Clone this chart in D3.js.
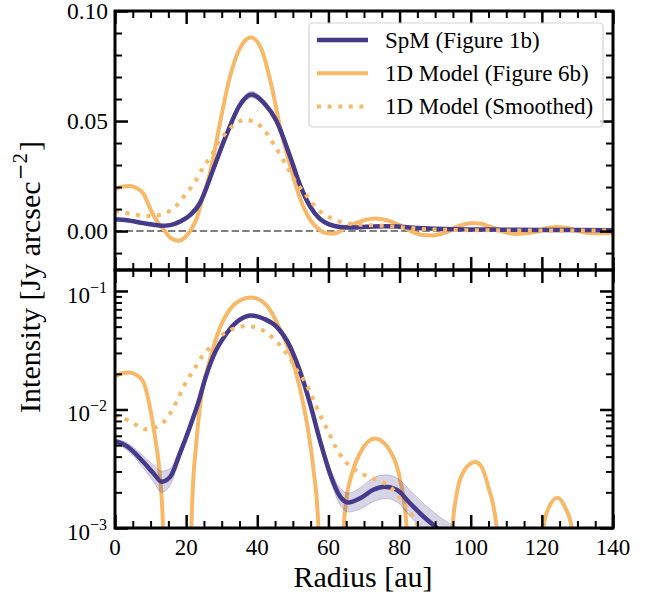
<!DOCTYPE html>
<html>
<head>
<meta charset="utf-8">
<script src="https://cdn.jsdelivr.net/npm/d3@7"></script>
<style>
  body { margin: 0; background: #fff; }
</style>
</head>
<body>
<svg id="chart" width="647" height="601"></svg>
<script>
// SpM profile (Figure 1b): radius [au], intensity, half-width of uncertainty band [dex]
const spmR = [0, 3.3, 8, 10.8, 13.1, 15.5, 18.3, 21.1, 23.9, 24.8, 27.6, 31.4, 35, 38.4, 42, 45.4, 49.2, 52, 54.8, 57.6, 60.4, 63.3, 65.6, 68.9, 72.6, 75.9, 79.2, 82.9, 86.7, 90, 95, 100, 110, 120, 130, 140]
const spmI = [0.0054, 0.0049, 0.0036, 0.0029, 0.00246, 0.0027, 0.0043, 0.0072, 0.0128, 0.016, 0.028, 0.044, 0.057, 0.062, 0.058, 0.05, 0.034, 0.021, 0.0113, 0.0055, 0.0029, 0.00184, 0.00164, 0.00178, 0.0021, 0.00223, 0.0021, 0.00162, 0.00125, 0.00103, 0.0008, 0.0007, 0.0006, 0.0005, 0.0005, 0.0004]
const spmErr = [0.02, 0.03, 0.05, 0.07, 0.09, 0.07, 0.04, 0.025, 0.015, 0.015, 0.01, 0.01, 0.01, 0.01, 0.01, 0.01, 0.01, 0.015, 0.02, 0.03, 0.05, 0.07, 0.08, 0.09, 0.1, 0.1, 0.1, 0.11, 0.11, 0.11, 0.12, 0.12, 0.12, 0.12, 0.12, 0.12]

// 1D model (Figure 6b)
const modelR = [0, 2, 4, 6, 8, 9.8, 11.2, 12.5, 13.5, 13.9, 15.5, 17.8, 19.6, 21.2, 21.5, 22, 22.8, 23.6, 24.6, 26, 27.2, 29.5, 32.3, 35.1, 38.2, 41.2, 44, 46.4, 49.2, 52, 54, 55.7, 57.2, 57.8, 59.5, 61, 62.5, 63.6, 64.2, 65, 66.5, 68.9, 71, 73.1, 75, 77.3, 80.1, 82, 82.8, 86, 89, 92, 94.2, 94.9, 96, 98, 100, 101.2, 103, 105, 107.3, 108.3, 113, 117, 119.6, 120.4, 122, 124.4, 126.5, 128.4, 129.6, 135, 140]
const modelI = [0.0189, 0.0202, 0.0205, 0.0196, 0.017, 0.0105, 0.006, 0.003, 0.001, 0.0002, -0.003, -0.0044, -0.003, 0.0002, 0.001, 0.0025, 0.005, 0.009, 0.015, 0.022, 0.03, 0.049, 0.07, 0.083, 0.088, 0.0825, 0.066, 0.0475, 0.03, 0.015, 0.0075, 0.0033, 0.001, 0.0002, -0.001, -0.0012, -0.0007, 0.0002, 0.0009, 0.0017, 0.0028, 0.0043, 0.0053, 0.0057, 0.0054, 0.0045, 0.0026, 0.001, 0.0002, -0.0017, -0.002, -0.0011, 0.0002, 0.001, 0.0019, 0.003, 0.0035, 0.0036, 0.0033, 0.0022, 0.001, 0.0002, -0.0013, -0.0007, 0.0002, 0.001, 0.0015, 0.0018, 0.0015, 0.001, 0.0002, -0.001, -0.001]

// 1D model, smoothed
const smoothR = [0, 2, 4.5, 8.4, 12.5, 15.3, 17.3, 19.5, 22.5, 24.8, 27.2, 29, 31.9, 34, 36.5, 39.8, 42.6, 45, 47.3, 49.2, 51.1, 52.5, 54.4, 56.2, 58.1, 60, 61.9, 64.2, 67.5, 71.2, 75, 78.2, 81.1, 83.4, 85.3, 88, 92, 100, 110, 120, 130, 140]
const smoothI = [0.009, 0.0085, 0.0079, 0.0068, 0.0073, 0.0091, 0.0116, 0.016, 0.0224, 0.029, 0.0345, 0.04, 0.0459, 0.049, 0.0505, 0.049, 0.0445, 0.0385, 0.0323, 0.0268, 0.0215, 0.0189, 0.015, 0.0113, 0.0084, 0.0065, 0.0049, 0.0038, 0.0031, 0.0027, 0.00246, 0.0021, 0.00162, 0.00129, 0.00103, 0.0008, 0.0006, 0.0004, 0.0003, 0.0003, 0.0002, 0.0002]

const legendLabels = ['SpM (Figure 1b)', '1D Model (Figure 6b)', '1D Model (Smoothed)']
const xMajor = [0, 20, 40, 60, 80, 100, 120, 140]
const linMajor = [0, 0.05, 0.1]
const linLabels = ['0.00', '0.05', '0.10']
const logMajor = [1e-3, 1e-2, 1e-1]
const logExp = ['−3', '−2', '−1']

const purple = '#463a8a'
const orange = '#f7b968'
const serif = "'Liberation Serif'"

const svg = d3.select('#chart')
const L = 115
const R = 613
const topP = { y0: 11, y1: 270 }
const botP = { y0: 270, y1: 528 }

const x = d3.scaleLinear().domain([0, 140]).range([L, R])
const yLin = d3.scaleLinear().domain([-0.0177, 0.1]).range([topP.y1, topP.y0])
const yLog = d3.scaleLog().domain([1e-3, 0.1503]).range([botP.y1, botP.y0])

const spm = spmR.map((r, i) => ({ r: r, v: spmI[i], e: spmErr[i] }))
const model = modelR.map((r, i) => ({ r: r, v: modelI[i] }))
const smooth = smoothR.map((r, i) => ({ r: r, v: smoothI[i] }))

const xMinor = d3.range(0, 141, 5).filter(d => d % 20 !== 0)
const linMinor = d3.range(-1, 10).map(d => d / 100).filter(d => Math.round(d * 100) % 5 !== 0)
const logMinor = []
;[1e-3, 1e-2].forEach(b => { for (let k = 2; k <= 9; k++) logMinor.push(b * k) })

// clip paths
const defs = svg.append('defs')
defs.append('clipPath').attr('id', 'clip-top').append('rect')
  .attr('x', L).attr('y', topP.y0).attr('width', R - L).attr('height', topP.y1 - topP.y0)
defs.append('clipPath').attr('id', 'clip-bot').append('rect')
  .attr('x', L).attr('y', botP.y0).attr('width', R - L).attr('height', botP.y1 - botP.y0)

/**
 * Draws the curves of one panel with the given y scale.
 */
function drawPanel (clipId, y, isLog) {
  const g = svg.append('g').attr('clip-path', 'url(#' + clipId + ')')
  const ok = d => !isLog || d.v > 0

  if (!isLog) {
    g.append('line')
      .attr('x1', L).attr('x2', R)
      .attr('y1', y(0)).attr('y2', y(0))
      .attr('stroke', '#7f7f7f')
      .attr('stroke-width', 2)
      .attr('stroke-dasharray', '7.4,3.2')
  }

  const line = d3.line()
    .defined(ok)
    .x(d => x(d.r))
    .y(d => y(d.v))
    .curve(d3.curveMonotoneX)

  g.append('path')
    .datum(model)
    .attr('d', line)
    .attr('fill', 'none')
    .attr('stroke', orange)
    .attr('stroke-width', 4)

  const band = d3.area()
    .x(d => x(d.r))
    .y0(d => y(d.v * Math.pow(10, -d.e)))
    .y1(d => y(d.v * Math.pow(10, d.e)))
    .curve(d3.curveMonotoneX)

  g.append('path')
    .datum(spm)
    .attr('d', band)
    .attr('fill', purple)
    .attr('fill-opacity', 0.22)
    .attr('stroke', purple)
    .attr('stroke-opacity', 0.25)
    .attr('stroke-width', 1)

  g.append('path')
    .datum(spm)
    .attr('d', line)
    .attr('fill', 'none')
    .attr('stroke', purple)
    .attr('stroke-width', 4.5)

  g.append('path')
    .datum(smooth)
    .attr('d', line)
    .attr('fill', 'none')
    .attr('stroke', orange)
    .attr('stroke-width', 4)
    .attr('stroke-dasharray', '4,6.6')
}

drawPanel('clip-top', yLin, false)
drawPanel('clip-bot', yLog, true)

/**
 * Adds inward ticks (major + minor) for one axis.
 */
function ticks (axisFn, scale, major, minor, transform) {
  const gMaj = svg.append('g').attr('transform', transform)
    .call(axisFn(scale).tickValues(major).tickSize(-13).tickFormat(''))
  const gMin = svg.append('g').attr('transform', transform)
    .call(axisFn(scale).tickValues(minor).tickSize(-7).tickFormat(''))
  ;[gMaj, gMin].forEach((g, i) => {
    g.select('.domain').remove()
    g.selectAll('.tick line').attr('stroke', '#000').attr('stroke-width', i === 0 ? 2.5 : 2)
  })
  return gMaj
}

// x ticks on all spines
ticks(d3.axisTop, x, xMajor, xMinor, `translate(0,${topP.y0})`)
ticks(d3.axisBottom, x, xMajor, xMinor, `translate(0,${topP.y1})`)
ticks(d3.axisTop, x, xMajor, xMinor, `translate(0,${botP.y0})`)
ticks(d3.axisBottom, x, xMajor, xMinor, `translate(0,${botP.y1})`)

// y ticks
ticks(d3.axisLeft, yLin, linMajor, linMinor, `translate(${L},0)`)
ticks(d3.axisRight, yLin, linMajor, linMinor, `translate(${R},0)`)
ticks(d3.axisLeft, yLog, logMajor, logMinor, `translate(${L},0)`)
ticks(d3.axisRight, yLog, logMajor, logMinor, `translate(${R},0)`)

// tick labels
svg.append('g').selectAll('text')
  .data(xMajor)
  .join('text')
  .attr('x', d => x(d))
  .attr('y', botP.y1 + 27)
  .attr('text-anchor', 'middle')
  .style('font-family', serif)
  .style('font-size', '23px')
  .text(d => d)

svg.append('g').selectAll('text')
  .data(linMajor)
  .join('text')
  .attr('x', L - 7)
  .attr('y', d => yLin(d) + 8)
  .attr('text-anchor', 'end')
  .style('font-family', serif)
  .style('font-size', '23.5px')
  .text((d, i) => linLabels[i])

const logLab = svg.append('g').selectAll('text')
  .data(logMajor)
  .join('text')
  .attr('x', L - 8)
  .attr('y', d => yLog(d) + 12)
  .attr('text-anchor', 'end')
  .style('font-family', serif)
  .style('font-size', '23px')
logLab.append('tspan').text('10')
logLab.append('tspan').style('font-size', '16px').attr('dy', -10).text((d, i) => logExp[i])

// frames
;[topP, botP].forEach(p => {
  svg.append('rect')
    .attr('x', L).attr('y', p.y0)
    .attr('width', R - L).attr('height', p.y1 - p.y0)
    .attr('fill', 'none')
    .attr('stroke', '#000')
    .attr('stroke-width', 3)
})

// axis labels
svg.append('text')
  .attr('x', 363)
  .attr('y', 587)
  .attr('text-anchor', 'middle')
  .style('font-family', serif)
  .style('font-size', '30px')
  .text('Radius [au]')

const yl = svg.append('text')
  .attr('transform', 'translate(40,277) rotate(-90)')
  .attr('text-anchor', 'middle')
  .style('font-family', serif)
  .style('font-size', '30px')
yl.append('tspan').text('Intensity [Jy arcsec')
yl.append('tspan').style('font-family', "'DejaVu Serif'").style('font-size', '20px')
  .attr('dx', 1).attr('dy', -13).text('−')
yl.append('tspan').style('font-size', '21px').text('2')
yl.append('tspan').attr('dx', 2).attr('dy', 13).text(']')

// legend
const lg = svg.append('g')
lg.append('rect')
  .attr('x', 309).attr('y', 23)
  .attr('width', 294).attr('height', 104)
  .attr('rx', 4)
  .attr('fill', '#fff').attr('fill-opacity', 0.8)
  .attr('stroke', '#d3d3d3').attr('stroke-width', 1.2)

const styles = [
  { c: purple, w: 4.5, dash: null },
  { c: orange, w: 4, dash: null },
  { c: orange, w: 4, dash: '4,6.6' }
]
legendLabels.forEach((t, i) => {
  const yy = 40 + i * 33.3
  lg.append('line')
    .attr('x1', 317).attr('x2', 368)
    .attr('y1', yy).attr('y2', yy)
    .attr('stroke', styles[i].c)
    .attr('stroke-width', styles[i].w)
    .attr('stroke-dasharray', styles[i].dash)
  lg.append('text')
    .attr('x', 385).attr('y', yy + 7.5)
    .style('font-family', serif)
    .style('font-size', '23px')
    .text(t)
})
</script>
</body>
</html>
